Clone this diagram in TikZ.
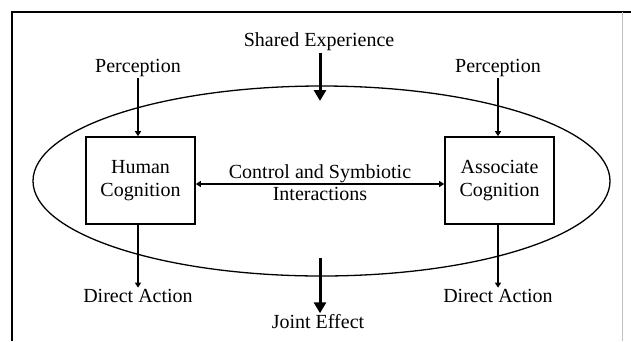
\documentclass[tikz,border=0pt]{standalone}
\usepackage{fontspec}
\setmainfont{Liberation Serif}
\usetikzlibrary{arrows.meta,positioning,shapes.geometric}

\begin{document}
\begin{tikzpicture}[
  x=1pt, y=-1pt,
  font=\fontsize{20}{23}\selectfont,
  >={Triangle[length=5pt,width=6pt]},
  line width=1.2pt,
  box/.style={draw, line width=1.6pt, minimum width=109pt, minimum height=87pt, align=center, inner sep=0pt},
  lbl/.style={inner sep=1pt},
  big/.style={line width=3pt, -{Triangle[length=11pt,width=12pt]}},
]
\useasboundingbox (0,0) rectangle (631,341);

% frame
\draw[line width=1.6pt] (12,341) -- (12,12) -- (631,12);
\draw[gray!50, line width=1pt] (622,12) -- (622,341);

% team boundary
\node[draw, ellipse, line width=1.3pt, inner sep=0pt, minimum width=577pt, minimum height=190pt] (team) at (321.5,181) {};

\node[box] (human) at (140.5,180.5) {Human\\ Cognition};
\node[box] (assoc) at (499.5,180.5) {Associate\\ Cognition};

\node[lbl] (percL) at (138,68) {Perception};
\node[lbl] (percR) at (498,68) {Perception};
\node[lbl] (shared) at (319,42) {Shared Experience};
\node[lbl] (actL) at (138,296) {Direct Action};
\node[lbl] (actR) at (498,296) {Direct Action};
\node[lbl] (joint) at (318,322) {Joint Effect};

\coordinate (sharedEnd) at (320,101);
\coordinate (jointStart) at (320,258);

\draw[->] (percL.south) -- (percL.south |- human.north);
\draw[->] (percR.south) -- (percR.south |- assoc.north);
\draw[->] (actL.north |- human.south) -- (actL.north);
\draw[->] (actR.north |- assoc.south) -- (actR.north);
\draw[<->] ([yshift=-3.5pt]human.east) --
  node[lbl, above]{Control and Symbiotic}
  node[lbl, below, yshift=-2pt]{Interactions} ([yshift=-3.5pt]assoc.west);

\draw[big] (shared.south -| sharedEnd) -- (sharedEnd);
\draw[big] (jointStart) -- (jointStart |- joint.north);
\end{tikzpicture}
\end{document}
